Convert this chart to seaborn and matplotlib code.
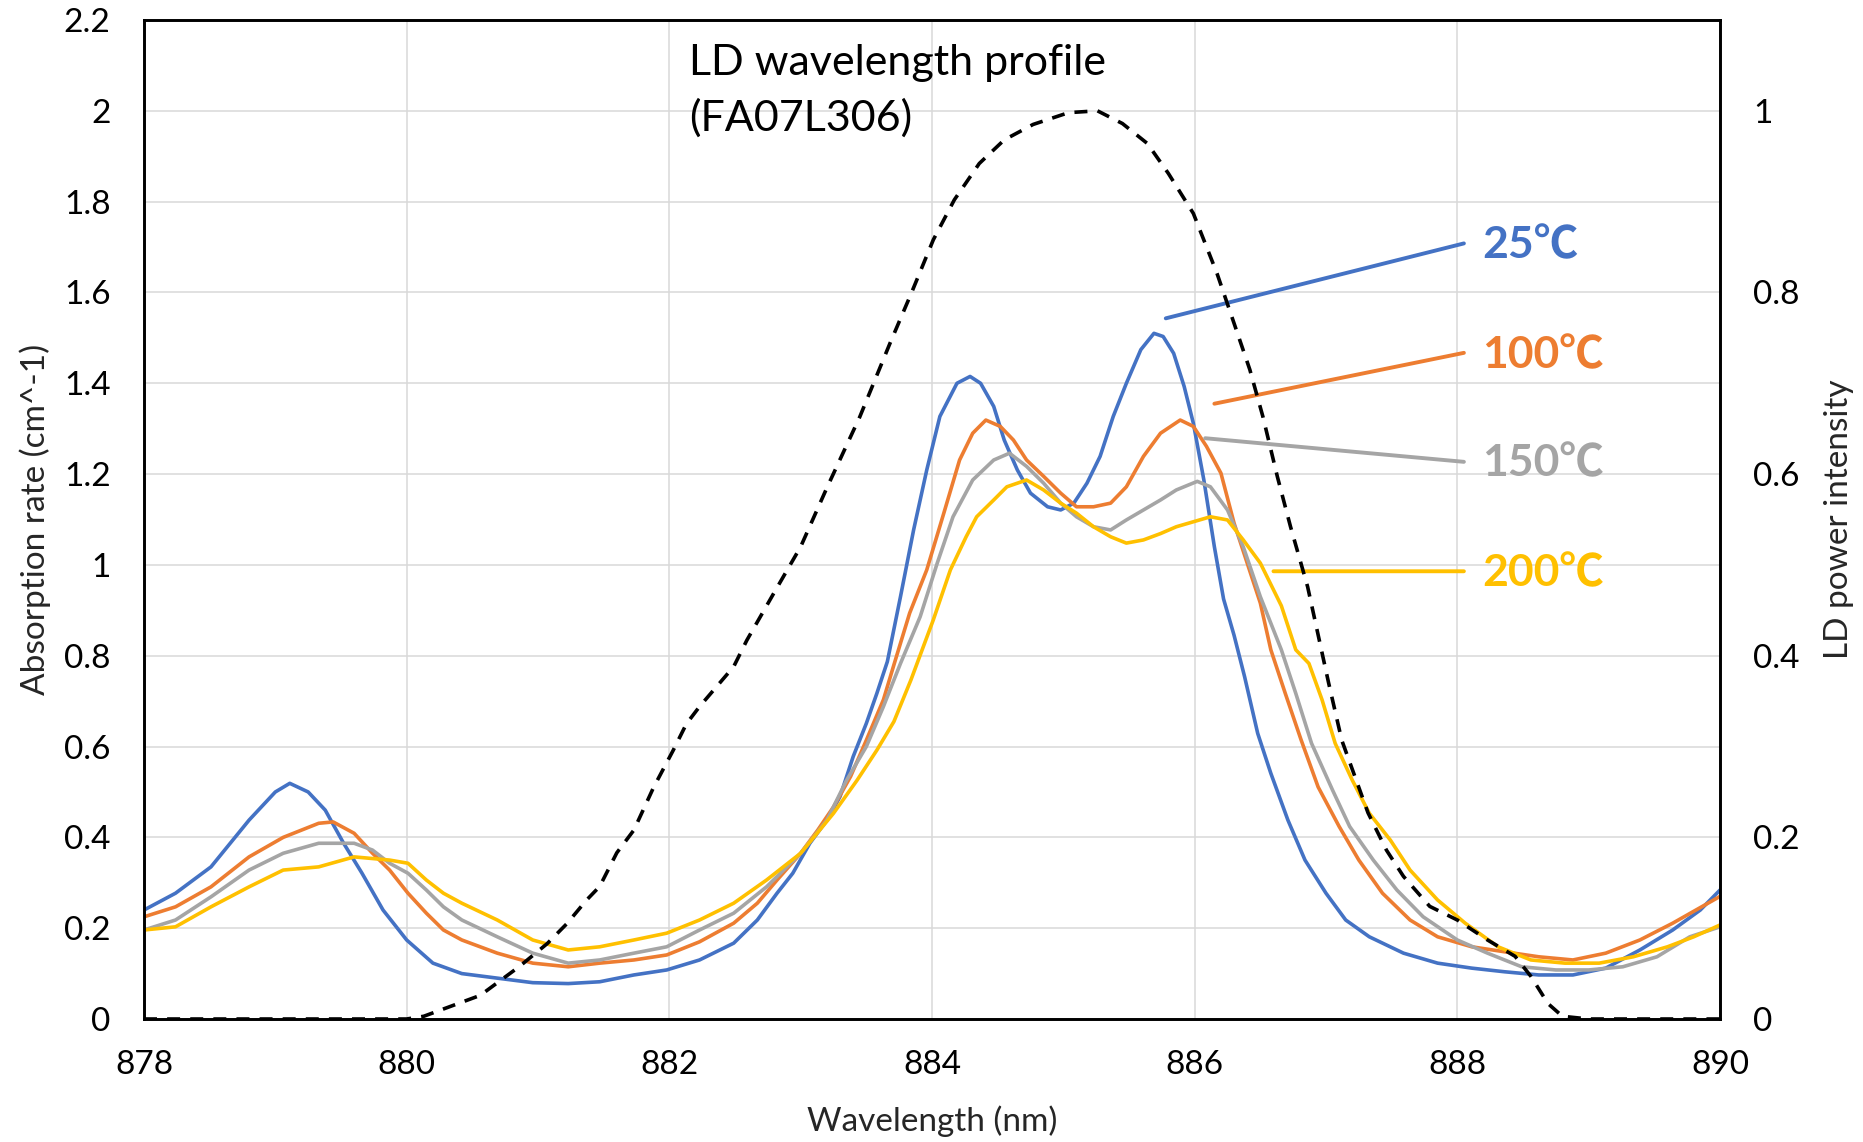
import matplotlib
matplotlib.use("Agg")
import matplotlib.pyplot as plt
from matplotlib.ticker import FuncFormatter, MultipleLocator
import seaborn as sns
import pandas as pd

# ---------------- data ----------------
wl_25 = [878.0, 878.24, 878.51, 878.8, 879.0, 879.11, 879.25, 879.38, 879.52, 879.66, 879.82,
         880.0, 880.2, 880.42, 880.69, 880.96, 881.23, 881.47, 881.73, 881.98, 882.23, 882.49,
         882.67, 882.82, 882.94, 883.07, 883.2, 883.3, 883.4, 883.5, 883.58, 883.66, 883.76,
         883.86, 883.96, 884.06, 884.19, 884.29, 884.37, 884.47, 884.55, 884.65, 884.75, 884.88,
         884.98, 885.08, 885.18, 885.28, 885.38, 885.48, 885.59, 885.69, 885.76, 885.84, 885.92,
         885.99, 886.07, 886.15, 886.22, 886.30, 886.38, 886.48, 886.58, 886.71, 886.84, 887.0,
         887.15, 887.33, 887.59, 887.85, 888.11, 888.36, 888.62, 888.88, 889.13, 889.39, 889.64,
         889.85, 890.0]
abs_25 = [0.24, 0.277, 0.335, 0.438, 0.50, 0.519, 0.50, 0.46, 0.387, 0.321, 0.24,
          0.174, 0.123, 0.10, 0.09, 0.08, 0.078, 0.082, 0.097, 0.108, 0.13, 0.167,
          0.218, 0.277, 0.321, 0.387, 0.438, 0.49, 0.578, 0.651, 0.717, 0.787, 0.93,
          1.077, 1.209, 1.327, 1.40, 1.415, 1.40, 1.349, 1.275, 1.209, 1.158, 1.128,
          1.121, 1.136, 1.18, 1.239, 1.327, 1.40, 1.474, 1.51, 1.503, 1.466, 1.393,
          1.312, 1.187, 1.04, 0.925, 0.845, 0.754, 0.629, 0.541, 0.438, 0.35, 0.277,
          0.218, 0.181, 0.145, 0.123, 0.112, 0.104, 0.097, 0.097, 0.112, 0.152, 0.196,
          0.24, 0.284]

wl_100 = [878.0, 878.24, 878.51, 878.8, 879.06, 879.33, 879.44, 879.6, 879.74, 879.87, 880.01,
          880.15, 880.28, 880.42, 880.69, 880.96, 881.23, 881.47, 881.73, 881.98, 882.23, 882.49,
          882.67, 882.82, 883.0, 883.13, 883.25, 883.38, 883.5, 883.63, 883.71, 883.83, 883.96,
          884.09, 884.21, 884.31, 884.41, 884.52, 884.62, 884.72, 884.85, 884.98, 885.10, 885.23,
          885.36, 885.48, 885.61, 885.74, 885.89, 885.99, 886.09, 886.2, 886.3, 886.4, 886.5,
          886.58, 886.69, 886.81, 886.94, 887.10, 887.25, 887.43, 887.64, 887.85, 888.11, 888.36,
          888.62, 888.88, 889.13, 889.39, 889.64, 890.0]
abs_100 = [0.225, 0.247, 0.291, 0.357, 0.40, 0.431, 0.434, 0.409, 0.365, 0.328, 0.277,
           0.233, 0.196, 0.174, 0.145, 0.123, 0.115, 0.123, 0.13, 0.141, 0.17, 0.211,
           0.255, 0.306, 0.365, 0.416, 0.467, 0.534, 0.614, 0.703, 0.78, 0.894, 0.989,
           1.114, 1.231, 1.29, 1.319, 1.305, 1.275, 1.231, 1.195, 1.158, 1.128, 1.128,
           1.136, 1.172, 1.239, 1.29, 1.319, 1.305, 1.261, 1.202, 1.092, 1.004, 0.916,
           0.813, 0.717, 0.615, 0.511, 0.424, 0.35, 0.277, 0.218, 0.181, 0.159, 0.148,
           0.137, 0.13, 0.145, 0.174, 0.211, 0.27]

wl_150 = [878.0, 878.24, 878.51, 878.8, 879.06, 879.33, 879.6, 879.74, 879.87, 880.01, 880.15,
          880.28, 880.42, 880.69, 880.96, 881.23, 881.47, 881.73, 881.98, 882.23, 882.49, 882.74,
          883.0, 883.2, 883.35, 883.5, 883.63, 883.76, 883.91, 884.04, 884.16, 884.31, 884.47,
          884.59, 884.72, 884.85, 884.98, 885.1, 885.23, 885.36, 885.48, 885.61, 885.74, 885.86,
          886.02, 886.12, 886.25, 886.37, 886.5, 886.66, 886.77, 886.89, 887.05, 887.18, 887.36,
          887.54, 887.74, 888.0, 888.23, 888.49, 888.75, 889.0, 889.26, 889.52, 889.77, 890.0]
abs_150 = [0.196, 0.218, 0.269, 0.328, 0.365, 0.387, 0.387, 0.372, 0.343, 0.321, 0.284,
           0.247, 0.218, 0.181, 0.145, 0.123, 0.13, 0.145, 0.159, 0.196, 0.233, 0.291,
           0.365, 0.438, 0.526, 0.6, 0.688, 0.783, 0.886, 1.004, 1.106, 1.187, 1.231,
           1.246, 1.217, 1.18, 1.136, 1.106, 1.084, 1.077, 1.099, 1.121, 1.143, 1.165,
           1.184, 1.172, 1.121, 1.04, 0.93, 0.813, 0.717, 0.607, 0.504, 0.424, 0.35,
           0.284, 0.225, 0.174, 0.145, 0.115, 0.108, 0.108, 0.115, 0.137, 0.181, 0.203]

wl_200 = [878.0, 878.24, 878.51, 878.8, 879.06, 879.33, 879.6, 879.87, 880.01, 880.15, 880.28,
          880.42, 880.69, 880.96, 881.23, 881.47, 881.73, 881.98, 882.23, 882.49, 882.74, 883.0,
          883.25, 883.43, 883.58, 883.71, 883.84, 884.01, 884.14, 884.26, 884.34, 884.47, 884.57,
          884.72, 884.85, 884.98, 885.1, 885.23, 885.36, 885.48, 885.61, 885.74, 885.86, 885.99,
          886.12, 886.25, 886.37, 886.5, 886.66, 886.77, 886.87, 886.97, 887.07, 887.2, 887.33,
          887.49, 887.64, 887.85, 888.06, 888.31, 888.56, 888.82, 889.08, 889.34, 889.6, 889.8,
          890.0]
abs_200 = [0.196, 0.203, 0.247, 0.291, 0.328, 0.335, 0.357, 0.35, 0.343, 0.306, 0.277,
           0.255, 0.218, 0.174, 0.152, 0.159, 0.174, 0.189, 0.218, 0.255, 0.306, 0.365,
           0.453, 0.526, 0.592, 0.655, 0.747, 0.879, 0.989, 1.062, 1.106, 1.143, 1.172,
           1.187, 1.165, 1.136, 1.114, 1.084, 1.062, 1.048, 1.055, 1.069, 1.084, 1.095,
           1.106, 1.099, 1.055, 1.004, 0.91, 0.813, 0.783, 0.703, 0.607, 0.526, 0.453,
           0.394, 0.328, 0.262, 0.211, 0.159, 0.130, 0.123, 0.123, 0.137, 0.159, 0.181,
           0.207]

wl_ld = [878.0, 879.0, 880.0, 880.13, 880.56, 880.86, 881.07, 881.22, 881.37, 881.47, 881.6,
         881.73, 881.88, 882.03, 882.13, 882.23, 882.36, 882.49, 882.59, 882.8, 883.0, 883.2,
         883.45, 883.68, 883.845, 884.01, 884.17, 884.36, 884.55, 884.77, 885.04, 885.26, 885.45,
         885.64, 885.8, 885.99, 886.17, 886.30, 886.42, 886.52, 886.63, 886.73, 886.86, 887.02,
         887.12, 887.22, 887.32, 887.46, 887.59, 887.79, 888.0, 888.23, 888.44, 888.56, 888.69,
         888.8, 889.0, 890.0]
ld_power = [0.0, 0.0, 0.0, 0.003, 0.026, 0.058, 0.083, 0.105, 0.131, 0.146, 0.183,
            0.208, 0.255, 0.296, 0.325, 0.344, 0.366, 0.388, 0.417, 0.47, 0.52, 0.585,
            0.663, 0.744, 0.80, 0.858, 0.902, 0.942, 0.968, 0.985, 0.998, 1.0, 0.986,
            0.964, 0.931, 0.887, 0.821, 0.766, 0.715, 0.663, 0.597, 0.542, 0.476, 0.37,
            0.307, 0.267, 0.227, 0.186, 0.157, 0.124, 0.109, 0.087, 0.069, 0.047, 0.017,
            0.003, 0.0, 0.0]

series_labels = ["25℃", "100℃", "150℃", "200℃"]
series_colors = ["#4472C4", "#ED7D31", "#A5A5A5", "#FFC000"]

# ---------------- styling ----------------
sns.set_theme(style="white")
plt.rcParams["font.family"] = ["Lato", "Noto Sans CJK JP", "DejaVu Sans"]

fig = plt.figure(figsize=(18.63, 11.42), dpi=100)
ax = fig.add_axes([144 / 1863, 1 - 1019 / 1142, 1576 / 1863, 999 / 1142])

wls = [wl_25, wl_100, wl_150, wl_200]
vals = [abs_25, abs_100, abs_150, abs_200]
for w, v, lab, col in zip(wls, vals, series_labels, series_colors):
    df = pd.DataFrame({"Wavelength": w, "Absorption": v})
    sns.lineplot(data=df, x="Wavelength", y="Absorption", ax=ax, color=col,
                 lw=2.6, legend=False, estimator=None)

ax.set_xlim(878, 890)
ax.set_ylim(0, 2.2)
ax.xaxis.set_major_locator(MultipleLocator(2))
ax.yaxis.set_major_locator(MultipleLocator(0.2))
fmt = FuncFormatter(lambda v, p: "%g" % round(v, 2))
ax.xaxis.set_major_formatter(fmt)
ax.yaxis.set_major_formatter(fmt)
ax.grid(True, color="#d9d9d9", lw=1.1)
ax.set_axisbelow(True)
ax.tick_params(axis="both", length=0, labelsize=24, colors="black")
ax.tick_params(axis="y", pad=24)
ax.tick_params(axis="x", pad=22)
ax.set_xlabel("Wavelength (nm)", fontsize=24)
ax.set_ylabel("Absorption rate (cm^-1)", fontsize=24)
ax.xaxis.set_label_coords(0.5, -0.086)
ax.yaxis.set_label_coords(-0.059, 0.5)

# secondary axis: LD power profile
ax2 = ax.twinx()
df_ld = pd.DataFrame({"Wavelength": wl_ld, "LD": ld_power})
sns.lineplot(data=df_ld, x="Wavelength", y="LD", ax=ax2, color="black", lw=2.6,
             linestyle=(0, (3.6, 2.8)), legend=False, estimator=None)
ax2.set_ylim(0, 1.1)
ax2.set_xlim(878, 890)
ax2.yaxis.set_major_locator(MultipleLocator(0.2))
ax2.yaxis.set_major_formatter(fmt)
ax2.tick_params(axis="y", length=0, labelsize=24, pad=24, colors="black")
ax2.set_ylabel("LD power intensity", fontsize=24)
ax2.yaxis.set_label_coords(1.066, 0.5)
ax2.grid(False)

for a in (ax, ax2):
    for s in a.spines.values():
        s.set_color("black")
        s.set_linewidth(1.9)
        s.set_visible(True)

# title text
ax.text(882.15, 2.148, "LD wavelength profile\n(FA07L306)", fontsize=31,
        ha="left", va="top", linespacing=1.5, color="black", zorder=5)

# leader lines and temperature labels
leader_start = [(885.78, 1.543), (886.15, 1.355), (886.08, 1.279), (886.60, 0.986)]
leader_end = [(888.05, 1.708), (888.05, 1.467), (888.05, 1.227), (888.05, 0.986)]
label_y = [1.703, 1.462, 1.224, 0.981]
for (x0, y0), (x1, y1), ty, lab, col in zip(leader_start, leader_end, label_y,
                                           series_labels, series_colors):
    ax.annotate("", xy=(x0, y0), xytext=(x1, y1),
                arrowprops=dict(arrowstyle="-", color=col, lw=2.8,
                                shrinkA=0, shrinkB=0))
    ax.text(888.19, ty, lab, color=col, fontsize=32, fontweight="bold",
            ha="left", va="center")

fig.savefig("out.png", dpi=100)
